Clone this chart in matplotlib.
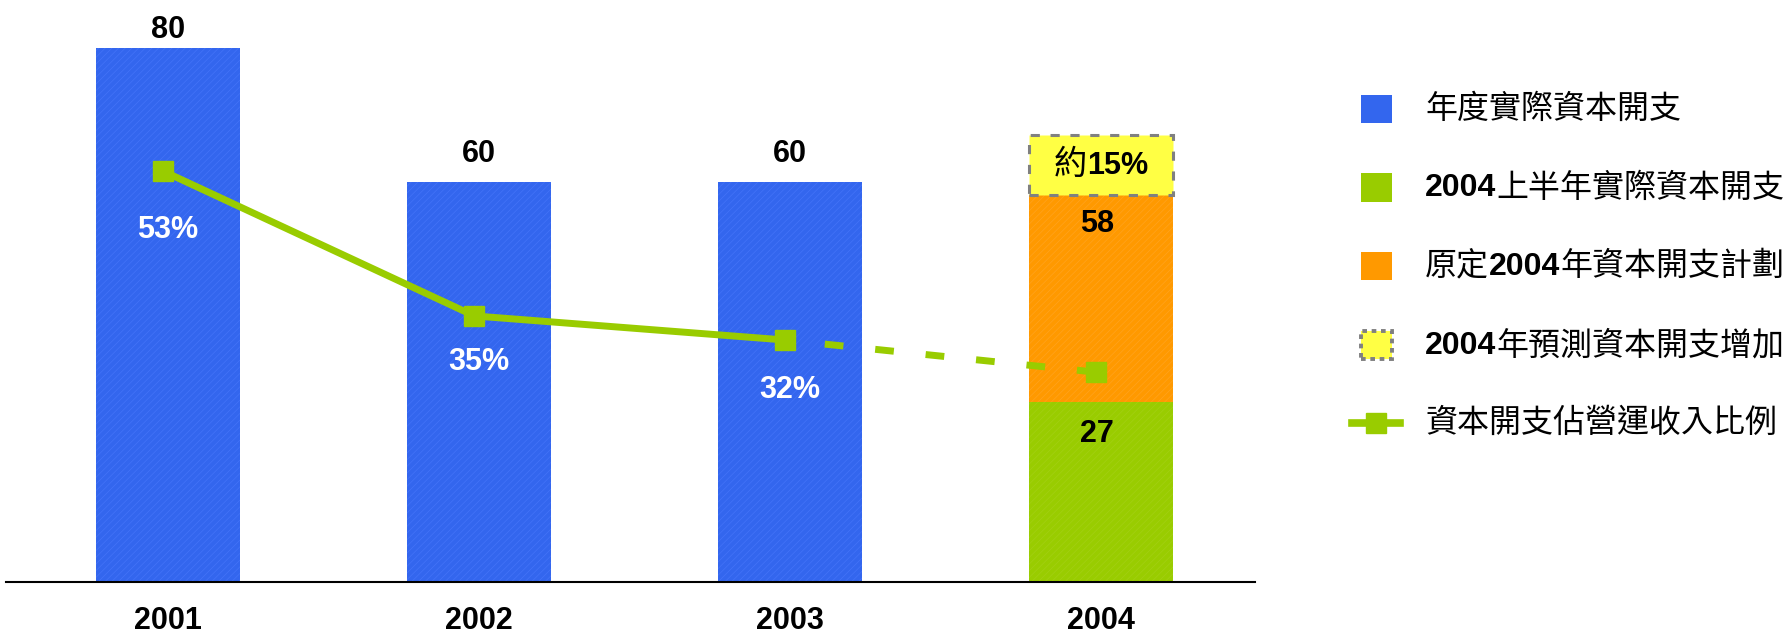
import matplotlib
matplotlib.use("Agg")
import matplotlib.pyplot as plt
from matplotlib.patches import Rectangle
from matplotlib.lines import Line2D
from matplotlib.offsetbox import TextArea, HPacker, AnnotationBbox

plt.rcParams['hatch.linewidth'] = 0.5

# data
years = ['2001', '2002', '2003', '2004']
capex_actual = [80, 60, 60]          # 2001-2003
capex_h1_2004 = 27
capex_plan_2004 = 58
capex_extra_2004 = 9                 # 約15% increase on top of plan
extra_label = '約15%'
capex_ratio = [53, 35, 32, 28]       # % of operating revenue
ratio_labels = ['53%', '35%', '32%', None]

legend_labels = ['年度實際資本開支', '2004上半年實際資本開支', '原定2004年資本開支計劃',
                 '2004年預測資本開支增加', '資本開支佔營運收入比例']

BLUE = '#3366ee'
GREEN = '#99cc00'
ORANGE = '#ff9900'
YELLOW = '#ffff44'
LATIN = 'Liberation Sans'
CJK = 'Noto Sans CJK TC'

W, H = 1789, 633
fig = plt.figure(figsize=(W / 100, H / 100), dpi=100)
ax = fig.add_axes([6 / W, (H - 582) / H, (1255 - 6) / W, 582 / H])

x = list(range(len(years)))
bw = 0.463

ax.bar(x[:3], capex_actual, width=bw, color=BLUE, edgecolor='#4474f8', linewidth=0, hatch='/////')
ax.bar(x[3], capex_plan_2004, width=bw, color=ORANGE, edgecolor='#ffa31f', linewidth=0, hatch='/////')
ax.bar(x[3], capex_h1_2004, width=bw, color=GREEN, edgecolor='#a3d014', linewidth=0, hatch='/////')
ax.bar(x[3], capex_extra_2004, bottom=capex_plan_2004, width=bw, color=YELLOW,
       edgecolor='#808080', linewidth=2.2, linestyle=(0, (3, 3.5)))

ax.set_xlim(-0.521, 3.495)
ax.set_ylim(0, 87.2)
for s in ['left', 'right', 'top']:
    ax.spines[s].set_visible(False)
ax.spines['bottom'].set_linewidth(1.5)
ax.set_yticks([])
ax.set_xticks([])

# value labels
val_offsets = [7, 14, 14]
for xi, v, off in zip(x[:3], capex_actual, val_offsets):
    ax.annotate(str(v), (xi, v), xytext=(0, off), textcoords='offset points',
                ha='center', va='baseline', family=LATIN, weight='bold', fontsize=22)
ax.annotate(str(capex_plan_2004), (x[3], capex_plan_2004), xytext=(-3, -27), textcoords='offset points',
            ha='center', va='baseline', family=LATIN, weight='bold', fontsize=22)
ax.annotate(str(capex_h1_2004), (x[3], capex_h1_2004), xytext=(-3, -29), textcoords='offset points',
            ha='center', va='baseline', family=LATIN, weight='bold', fontsize=22)

for xi, yr in zip(x, years):
    ax.annotate(yr, (xi, 0), xytext=(0, -34), textcoords='offset points',
                ha='center', va='baseline', family=LATIN, weight='bold', fontsize=22)


def runs(s):
    out = []
    for ch in s:
        a = ord(ch) < 128
        if out and out[-1][1] == a:
            out[-1][0] += ch
        else:
            out.append([ch, a])
    return out


def mixed(s, size, color='black', cjk_size=None):
    boxes = []
    for txt, a in runs(s):
        if a:
            props = dict(family=LATIN, weight='bold', size=size, color=color)
        else:
            props = dict(family=CJK, size=cjk_size or size, color=color)
        boxes.append(TextArea(txt, textprops=props))
    return HPacker(children=boxes, align='baseline', pad=0, sep=0)


ab = AnnotationBbox(mixed(extra_label, 22, cjk_size=24), (x[3], capex_plan_2004 + capex_extra_2004 / 2),
                    box_alignment=(0.5, 0.5), frameon=False, pad=0)
ax.add_artist(ab)

# ratio line on secondary axis
ax2 = ax.twinx()
ax2.set_ylim(1.9, 74.3)
ax2.axis('off')
lx = [xi - 0.015 for xi in x]
ax2.plot(lx[:3], capex_ratio[:3], color=GREEN, lw=5, marker='s', markersize=14,
         solid_joinstyle='miter', zorder=3)
ax2.plot(lx[2:], capex_ratio[2:], color=GREEN, lw=5, linestyle=(1.6, (2.7, 4.6)), zorder=3)
ax2.plot(lx[3], capex_ratio[3], color=GREEN, marker='s', markersize=14, zorder=3)

pct_offsets = [-48, -39, -42]
for xi, v, lab, off in zip(x, capex_ratio, ratio_labels, pct_offsets):
    ax2.annotate(lab, (xi, v), xytext=(0, off), textcoords='offset points',
                 ha='center', va='baseline', family=LATIN, weight='bold', fontsize=22, color='white')

# legend
leg_y = [109, 187.5, 266, 345, 423]
styles = [dict(fc=BLUE), dict(fc=GREEN), dict(fc=ORANGE),
          dict(fc=YELLOW, ec='#808080', lw=2.8, ls=(0, (1.2, 1.2)))]
for yy, st in zip(leg_y[:4], styles):
    fig.add_artist(Rectangle((1361 / W, 1 - (yy + 14) / H), 31 / W, 28 / H,
                             transform=fig.transFigure, **({'lw': 0} | st)))
yl = 1 - leg_y[4] / H
fig.add_artist(Line2D([1352 / W, 1400 / W], [yl, yl], color=GREEN, lw=5.5, transform=fig.transFigure))
fig.add_artist(Line2D([1376 / W], [yl], color=GREEN, marker='s', markersize=15, transform=fig.transFigure))

for yy, lab in zip(leg_y, legend_labels):
    fig.add_artist(AnnotationBbox(mixed(lab, 23), (1425 / W, 1 - yy / H), xycoords='figure fraction',
                                  box_alignment=(0, 0.5), frameon=False, pad=0))

fig.savefig('out.png', dpi=100)
